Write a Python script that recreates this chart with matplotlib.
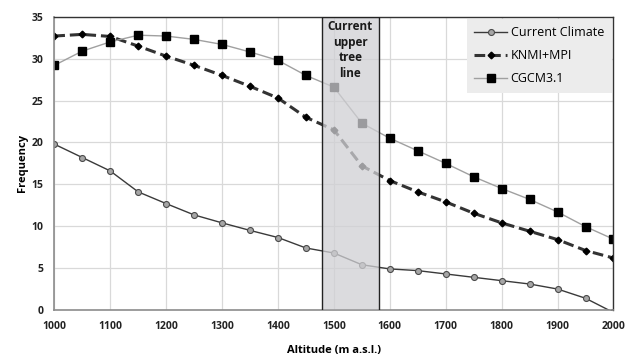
import numpy as np
import matplotlib
matplotlib.use("Agg")
import matplotlib.pyplot as plt
from matplotlib.patches import Rectangle

plt.rcParams['font.family'] = ['Open Sans', 'DejaVu Sans']

# -------------------------------
# Data
# -------------------------------
altitude = np.arange(1000, 2001, 50)
current_climate = [19.8, 18.2, 16.6, 14.1, 12.7, 11.35, 10.4, 9.5, 8.65, 7.4,
                   6.8, 5.4, 4.9, 4.7, 4.3, 3.9, 3.5, 3.1, 2.5, 1.4, -0.3]
knmi_mpi = [32.7, 32.9, 32.65, 31.5, 30.3, 29.2, 28.0, 26.7, 25.3, 23.0,
            21.5, 17.2, 15.45, 14.1, 12.9, 11.55, 10.4, 9.4, 8.4, 7.1, 6.2]
cgcm = [29.2, 30.9, 32.0, 32.8, 32.7, 32.3, 31.7, 30.8, 29.8, 28.0,
        26.6, 22.3, 20.5, 19.0, 17.5, 15.9, 14.5, 13.2, 11.7, 9.95, 8.45]

treeline_start, treeline_end = 1478, 1581
treeline_text = "Current\nupper\ntree\nline"

# -------------------------------
# Plot
# -------------------------------
fig = plt.figure(figsize=(6.26, 3.57), dpi=100)
ax = fig.add_axes([0.0867, 0.1317, 0.8933, 0.8213])

ax.plot(altitude, current_climate, color='#3a3a3a', lw=1.0, marker='o',
        ms=4.3, mfc='#a6a6a6', mec='#4a4a4a', mew=0.8, label='Current Climate')
ax.plot(altitude, knmi_mpi, color='#333333', lw=2.2, ls=(0, (3.5, 1.6)),
        marker='D', ms=3.4, mfc='black', mec='black', label='KNMI+MPI')
ax.plot(altitude, cgcm, color='#a0a0a0', lw=1.0, marker='s',
        ms=5.2, mfc='black', mec='black', label='CGCM3.1')

# grey box for the tree line (drawn on top, semi transparent)
ax.add_patch(Rectangle((treeline_start, 0), treeline_end - treeline_start, 35,
                       facecolor='#d0d0d4', alpha=0.75, edgecolor='none', zorder=4))
ax.add_patch(Rectangle((treeline_start, 0), treeline_end - treeline_start, 35,
                       facecolor='none', edgecolor='#222222', lw=1.0, zorder=5))
ax.text((treeline_start + treeline_end) / 2, 34.6, treeline_text, ha='center',
        va='top', fontsize=8.5, fontweight='bold', color='#1a1a1a',
        linespacing=1.25, zorder=6)

ax.set_xlim(1000, 2000)
ax.set_ylim(0, 35)
ax.set_xticks(np.arange(1000, 2001, 100))
ax.set_yticks(np.arange(0, 36, 5))
ax.grid(True, color='#d9d9d9', lw=0.9)
ax.set_axisbelow(True)

for lab in ax.get_xticklabels() + ax.get_yticklabels():
    lab.set_fontweight('bold')
    lab.set_fontsize(7.5)
    lab.set_color('#222222')
ax.tick_params(length=0, pad=8)

for side in ['left', 'bottom']:
    ax.spines[side].set_color('#8c8c8c')
    ax.spines[side].set_linewidth(1.2)
for side in ['top', 'right']:
    ax.spines[side].set_color('#333333')
    ax.spines[side].set_linewidth(1.0)

ax.set_xlabel("Altitude (m a.s.l.)", fontsize=8, fontweight='bold', labelpad=9)
ax.set_ylabel("Frequency", fontsize=8, fontweight='bold', labelpad=2)

leg = ax.legend(loc='upper right', bbox_to_anchor=(1.0, 1.0), borderaxespad=0.15,
                fontsize=9, frameon=True, fancybox=False, handlelength=2.6,
                borderpad=0.6, labelspacing=0.8, handletextpad=0.3)
leg.get_frame().set_facecolor('#ececec')
leg.get_frame().set_edgecolor('none')
leg.get_frame().set_alpha(1)
leg.set_zorder(7)

fig.savefig("out.png", dpi=100)
